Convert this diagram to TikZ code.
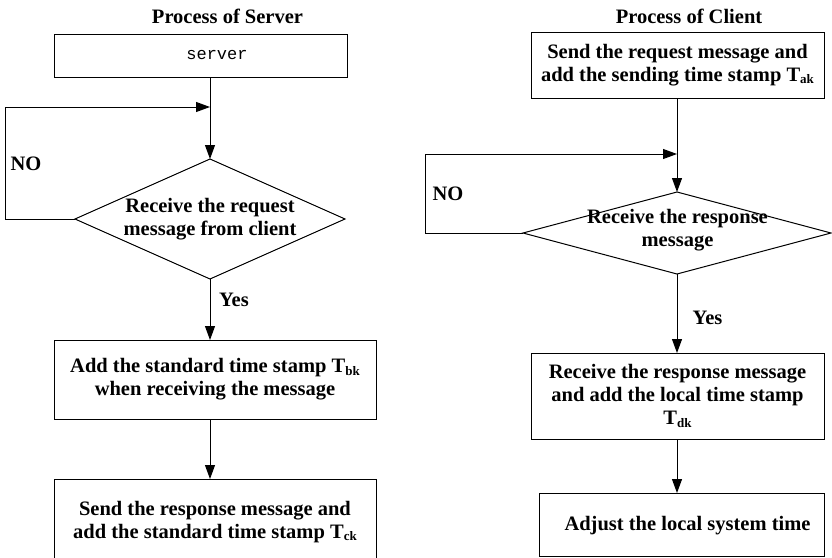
\documentclass[tikz,border=0pt]{standalone}
\usepackage{fontspec}
\setmainfont{Liberation Serif}
\setmonofont{Liberation Mono}
\usetikzlibrary{arrows.meta,shapes.geometric}
\newcommand{\sbs}[1]{\raisebox{-2.5pt}{\fontsize{13}{13}\selectfont #1}}
\begin{document}
\begin{tikzpicture}[x=1pt,y=-1pt,line width=1pt,
  box/.style={draw,rectangle,inner sep=0pt,outer sep=0pt,align=center,font=\bfseries\fontsize{20.5}{23}\selectfont},
  dia/.style={draw,diamond,inner sep=0pt,outer sep=0pt},
  txt/.style={align=center,inner sep=0pt,font=\bfseries\fontsize{20.5}{23}\selectfont},
  mono/.style={inner sep=0pt,font=\ttfamily\fontsize{17}{17}\selectfont},
  arr/.style={-{Triangle[length=14pt,width=10pt]}}]
\useasboundingbox (0,0) rectangle (832,557);
% ---------- Server ----------
\node[txt] (t1) at (227.5,16.5) {Process of Server};
\node[box,minimum width=293pt,minimum height=43pt] (s1) at (200.5,55.5) {};
\node[mono] (s1t) at (217,55) {server};
\coordinate (m1) at (210,107);
\coordinate (l1) at (5,219);
\node[dia,minimum width=270pt,minimum height=120pt] (d1) at (210,219) {};
\node[txt] (d1t) at (210,219.5) {Receive the request\\message from client};
\node[txt] (no1) at (26,164) {NO};
\node[box,minimum width=322pt,minimum height=79pt] (b2) at (215,379.5)
  {Add the standard time stamp T\sbs{bk}\\when receiving the message};
\node[txt] (yes1) at (234,300) {Yes};
\node[box,minimum width=322pt,minimum height=86pt] (b3) at (215,522)
  {Send the response message and\\add the standard time stamp T\sbs{ck}};
\draw[arr] (s1.south -| m1) -- (d1.north);
\draw[arr] (d1.west) -- (l1) |- (m1);
\draw[arr] (d1.south) -- (b2.north -| d1.south);
\draw[arr] (b2.south -| d1.south) -- (b3.north -| d1.south);
% ---------- Client ----------
\node[txt] (t2) at (689,16.5) {Process of Client};
\node[box,minimum width=293pt,minimum height=66pt] (c1) at (677.5,65)
  {Send the request message and\\add the sending time stamp T\sbs{ak}};
\coordinate (m2) at (677,154);
\coordinate (l2) at (425,233);
\node[dia,minimum width=308pt,minimum height=82pt] (d2) at (677,233) {};
\node[txt] (d2t) at (677.5,230.5) {Receive the response\\message};
\node[txt] (no2) at (448,194) {NO};
\node[txt] (yes2) at (707.5,318) {Yes};
\node[box,minimum width=293pt,minimum height=86pt] (c2) at (677.5,396)
  {Receive the response message\\and add the local time stamp\\T\sbs{dk}};
\node[box,minimum width=285pt,minimum height=63pt] (c3) at (681.5,524.5) {};
\node[txt] (c3t) at (687.5,526) {Adjust the local system time};
\draw[arr] (c1.south -| m2) -- (d2.north);
\draw[arr] (d2.west) -- (l2) |- (m2);
\draw[arr] (d2.south) -- (c2.north -| d2.south);
\draw[arr] (c2.south -| d2.south) -- (c3.north -| d2.south);
\end{tikzpicture}
\end{document}
